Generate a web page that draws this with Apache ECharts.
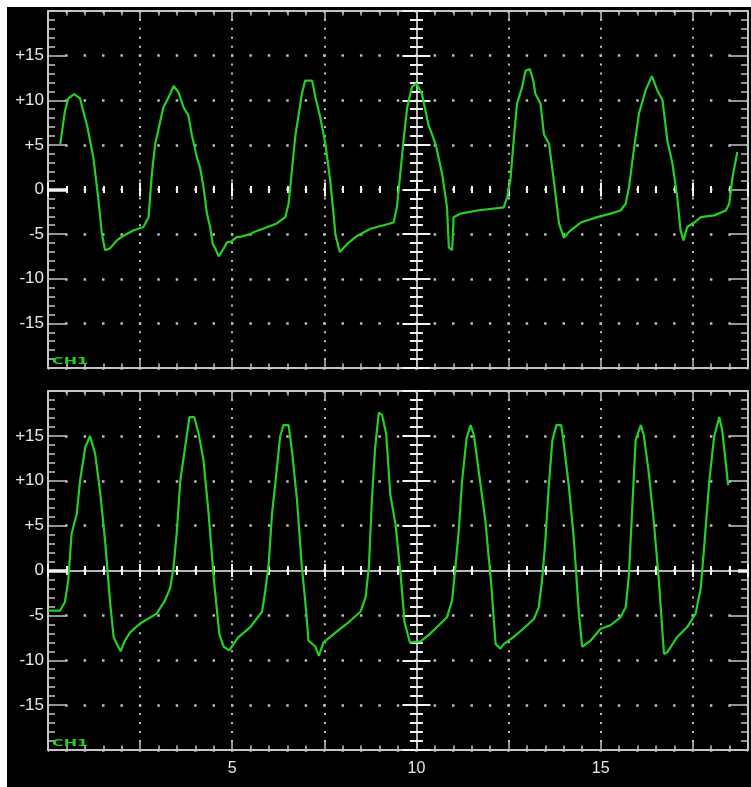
<!DOCTYPE html>
<html>
<head>
<meta charset="utf-8">
<script src="https://cdn.jsdelivr.net/npm/echarts@6/dist/echarts.min.js"></script>
<style>
html,body{margin:0;padding:0;background:#fff;width:751px;height:787px;overflow:hidden;}
#chart{position:absolute;left:7px;top:7px;width:744px;height:780px;background:#000;}
</style>
</head>
<body>
<div id="chart"></div>
<script>
// ---- data ----
const xRange = [0, 19];
const yRange = [-20, 20];
const xTickLabels = [5, 10, 15];
const yTickLabels = [15, 10, 5, 0, -5, -10, -15];
const channelLabel = 'CH1';

const topX = [0.33,0.46,0.55,0.71,0.87,1.07,1.23,1.37,1.46,1.55,1.68,1.87,2.04,2.31,2.59,2.73,2.82,2.91,3.13,3.27,3.41,3.54,3.68,3.81,3.9,4.04,4.13,4.22,4.31,4.4,4.47,4.54,4.63,4.77,4.86,4.95,5.13,5.22,5.49,5.58,6.21,6.44,6.53,6.62,6.71,6.8,6.89,6.98,7.17,7.26,7.39,7.53,7.66,7.75,7.8,7.92,8.12,8.39,8.75,9.11,9.38,9.47,9.57,9.66,9.75,9.88,10.0,10.15,10.33,10.52,10.7,10.83,10.88,10.97,11.01,11.2,11.65,12.37,12.46,12.55,12.64,12.73,12.87,12.96,13.08,13.17,13.23,13.37,13.46,13.6,13.73,13.87,14.0,14.18,14.46,14.91,15.27,15.54,15.68,15.77,15.9,16.04,16.22,16.39,16.54,16.68,16.81,16.95,17.08,17.17,17.25,17.35,17.54,17.72,18.08,18.4,18.49,18.58,18.71];
const topY = [5.0,8.8,10.2,10.7,10.2,7.0,3.6,-1.2,-4.9,-6.8,-6.6,-5.7,-5.2,-4.6,-4.2,-3.1,1.8,5.1,9.2,10.3,11.6,10.9,9.2,8.3,6.2,3.6,2.4,0.3,-2.6,-4.2,-6.1,-6.6,-7.5,-6.6,-5.9,-5.9,-5.3,-5.3,-5.0,-4.8,-3.8,-3.1,-1.6,2.1,5.9,8.3,10.7,12.2,12.2,10.3,8.1,5.1,1.0,-2.7,-5.0,-7.0,-6.1,-5.2,-4.4,-4.0,-3.7,-2.0,2.1,5.9,9.2,11.5,11.9,10.7,7.2,5.1,1.7,-2.0,-6.5,-6.8,-3.1,-2.7,-2.35,-2.0,-0.9,1.0,5.5,9.6,11.5,13.3,13.5,12.2,10.7,9.6,6.2,5.1,1.0,-3.8,-5.4,-4.6,-3.7,-3.1,-2.7,-2.35,-1.6,0.26,4.4,8.5,11.1,12.7,11.1,10.0,5.5,2.9,-0.9,-4.6,-5.7,-4.2,-3.7,-3.1,-2.9,-2.35,-1.6,1.4,4.2];

const botX = [0.01,0.33,0.46,0.55,0.64,0.78,0.87,1.01,1.14,1.28,1.41,1.55,1.68,1.78,1.87,1.97,2.09,2.23,2.5,2.95,3.18,3.32,3.41,3.5,3.59,3.72,3.84,3.97,4.09,4.22,4.36,4.5,4.65,4.77,4.92,5.15,5.49,5.81,5.9,5.99,6.08,6.17,6.3,6.39,6.53,6.62,6.76,6.89,6.98,7.07,7.26,7.35,7.48,7.75,8.12,8.48,8.62,8.71,8.79,8.88,8.98,9.07,9.18,9.29,9.43,9.57,9.68,9.82,10.11,10.33,10.56,10.83,10.97,11.06,11.15,11.24,11.36,11.47,11.56,11.69,11.87,12.03,12.15,12.28,12.37,12.64,12.87,13.19,13.32,13.41,13.5,13.59,13.69,13.8,13.93,14.0,14.14,14.27,14.41,14.5,14.73,15.0,15.27,15.54,15.68,15.77,15.86,15.95,16.09,16.17,16.31,16.44,16.58,16.72,16.81,17.08,17.35,17.58,17.72,17.81,17.95,18.08,18.22,18.3,18.4,18.46];
const botY = [-4.46,-4.46,-3.5,-1.1,4.1,6.3,10.0,13.7,15.0,13.0,8.9,3.3,-3.3,-7.4,-8.2,-9.0,-7.8,-6.9,-5.9,-4.8,-3.3,-1.9,0.4,4.5,10.0,13.7,17.1,17.1,15.2,12.3,6.3,-0.9,-7.1,-8.5,-8.9,-7.5,-6.3,-4.6,-2.2,0.7,6.3,9.7,14.9,16.2,16.2,13.4,7.8,0.4,-3.3,-7.8,-8.5,-9.5,-8.0,-7.1,-5.9,-4.6,-3.0,0.4,7.8,13.7,17.6,17.3,15.2,8.5,5.2,-0.4,-5.8,-8.0,-7.9,-7.2,-6.3,-5.2,-3.3,0.4,4.5,10.0,14.7,16.2,15.1,11.1,5.6,-1.5,-8.2,-8.7,-8.2,-7.4,-6.6,-5.4,-4.1,-1.1,3.3,9.3,14.5,16.2,16.2,14.1,9.3,3.7,-4.8,-8.5,-7.8,-6.5,-6.1,-5.2,-4.1,-0.4,7.1,14.5,16.2,15.1,10.8,5.6,-1.1,-9.3,-9.1,-7.4,-6.3,-4.8,-1.9,2.6,10.0,14.9,17.1,15.6,11.9,9.5];

// ---- layout & style ----
const grids = [
  {left: 41, top: 4, width: 700, height: 357},
  {left: 41, top: 384, width: 700, height: 359}
];
const EDGE = '#c4c4c4';
const CENTER = '#f2f2f2';
const DOT = '#bdbdbd';
const LABEL = '#e8e8e8';
const TRACE = '#24d024';

function baseAxis(g, min, max, extra) {
  return Object.assign({
    gridIndex: g, type: 'value', min: min, max: max,
    axisLine: {show: false, onZero: false},
    axisTick: {show: false},
    axisLabel: {show: false},
    splitLine: {show: false}
  }, extra);
}
function tick(len, inside, color, width) {
  return {show: true, inside: inside, length: len, lineStyle: {color: color, width: width}};
}

const xAxes = [], yAxes = [];
const series = [];
const graphics = [];

grids.forEach(function (gr, g) {
  const pxX = gr.width / (xRange[1] - xRange[0]);
  const pxY = gr.height / (yRange[1] - yRange[0]);
  const xStep = 0.5 * pxX;   // horizontal dotted grid: dot each 0.5 unit
  const yStep = 1 * pxY;     // vertical dotted grid: dot each 1 unit
  const midY = -gr.height / 2;
  const midX = -(10 - xRange[0]) * pxX;
  const xb = xAxes.length, yb = yAxes.length;

  // bottom edge, major + grid dots + labels
  xAxes.push(baseAxis(g, xRange[0], xRange[1], {
    position: 'bottom', interval: 2.5,
    axisLine: {show: true, onZero: false, lineStyle: {color: EDGE, width: 2}},
    axisTick: tick(8, true, EDGE, 1.5),
    splitLine: {show: true, lineStyle: {color: DOT, width: 2, type: [2, yStep - 2], dashOffset: 1}},
    axisLabel: g === 1 ? {show: true, customValues: xTickLabels, color: LABEL, fontSize: 16,
      fontFamily: 'Liberation Sans', margin: 11} : {show: false}
  }));
  // bottom edge minor
  xAxes.push(baseAxis(g, xRange[0], xRange[1], {position: 'bottom', interval: 0.5, axisTick: tick(4.5, true, EDGE, 1.5)}));
  // top edge
  xAxes.push(baseAxis(g, xRange[0], xRange[1], {
    position: 'top', interval: 2.5,
    axisLine: {show: true, onZero: false, lineStyle: {color: EDGE, width: 2}},
    axisTick: tick(8, true, EDGE, 1.5)
  }));
  xAxes.push(baseAxis(g, xRange[0], xRange[1], {position: 'top', interval: 0.5, axisTick: tick(4.5, true, EDGE, 1.5)}));
  // center horizontal (y = 0)
  const zMaj = g === 0 ? 7 : 6.5, zMin = g === 0 ? 3.5 : 4.5;
  xAxes.push(baseAxis(g, xRange[0], xRange[1], {
    position: 'bottom', offset: midY, interval: 2.5,
    axisLine: {show: g === 1, onZero: false, lineStyle: {color: CENTER, width: 1.5}},
    axisTick: tick(zMaj, true, CENTER, 2)
  }));
  xAxes.push(baseAxis(g, xRange[0], xRange[1], {position: 'bottom', offset: midY, interval: 2.5, axisTick: tick(zMaj, false, CENTER, 2)}));
  xAxes.push(baseAxis(g, xRange[0], xRange[1], {position: 'bottom', offset: midY, interval: 0.5, axisTick: tick(zMin, true, CENTER, 2)}));
  xAxes.push(baseAxis(g, xRange[0], xRange[1], {position: 'bottom', offset: midY, interval: 0.5, axisTick: tick(zMin, false, CENTER, 2)}));

  // left edge, major + grid dots + labels
  yAxes.push(baseAxis(g, yRange[0], yRange[1], {
    position: 'left', interval: 5,
    axisLine: {show: true, onZero: false, lineStyle: {color: EDGE, width: 2}},
    axisTick: tick(18, true, EDGE, 1.5),
    splitLine: {show: true, lineStyle: {color: DOT, width: 2.5, type: [2.5, xStep - 2.5], dashOffset: 1.25}},
    axisLabel: {show: true, customValues: yTickLabels, color: LABEL, fontSize: 17,
      fontFamily: 'Liberation Sans', margin: 4,
      formatter: function (v) { return v > 0 ? '+' + v : String(v); }}
  }));
  yAxes.push(baseAxis(g, yRange[0], yRange[1], {position: 'left', interval: 1, axisTick: tick(7, true, EDGE, 1.5)}));
  // right edge
  yAxes.push(baseAxis(g, yRange[0], yRange[1], {
    position: 'right', interval: 5,
    axisLine: {show: true, onZero: false, lineStyle: {color: EDGE, width: 2}},
    axisTick: tick(18, true, EDGE, 1.5)
  }));
  yAxes.push(baseAxis(g, yRange[0], yRange[1], {position: 'right', interval: 1, axisTick: tick(7, true, EDGE, 1.5)}));
  // center vertical (x = 10)
  yAxes.push(baseAxis(g, yRange[0], yRange[1], {
    position: 'left', offset: midX, interval: 5,
    axisLine: {show: true, onZero: false, lineStyle: {color: CENTER, width: 1.5}},
    axisTick: tick(14, true, CENTER, 2)
  }));
  yAxes.push(baseAxis(g, yRange[0], yRange[1], {position: 'left', offset: midX, interval: 5, axisTick: tick(14, false, CENTER, 2)}));
  yAxes.push(baseAxis(g, yRange[0], yRange[1], {position: 'left', offset: midX, interval: 1, axisTick: tick(6.5, true, CENTER, 2)}));
  yAxes.push(baseAxis(g, yRange[0], yRange[1], {position: 'left', offset: midX, interval: 1, axisTick: tick(6.5, false, CENTER, 2)}));
  // ground marker at 0
  yAxes.push(baseAxis(g, yRange[0], yRange[1], {position: 'left',
    axisTick: {show: true, inside: true, length: 20, customValues: [0], lineStyle: {color: CENTER, width: 3.5}}}));
  if (g === 1) {
    yAxes.push(baseAxis(g, yRange[0], yRange[1], {position: 'right',
      axisTick: {show: true, inside: true, length: 10, customValues: [0], lineStyle: {color: CENTER, width: 3.5}}}));
  }

  const xs = g === 0 ? topX : botX;
  const ys = g === 0 ? topY : botY;
  series.push({
    type: 'line', xAxisIndex: xb, yAxisIndex: yb,
    data: xs.map(function (x, i) { return [x, ys[i]]; }),
    showSymbol: false, symbol: 'none', z: 10,
    lineStyle: {color: TRACE, width: 2.2},
    animation: false
  });

  graphics.push({
    type: 'text', left: gr.left + 4, top: gr.top + gr.height - 11,
    scaleX: 1.45, scaleY: 0.85, z: 20,
    style: {text: channelLabel, fill: TRACE, font: 'bold 11px "DejaVu Sans"'}
  });
});

const chart = echarts.init(document.getElementById('chart'), null, {renderer: 'canvas'});
chart.setOption({
  backgroundColor: '#000',
  animation: false,
  grid: grids,
  xAxis: xAxes,
  yAxis: yAxes,
  series: series,
  graphic: graphics
});
</script>
</body>
</html>
